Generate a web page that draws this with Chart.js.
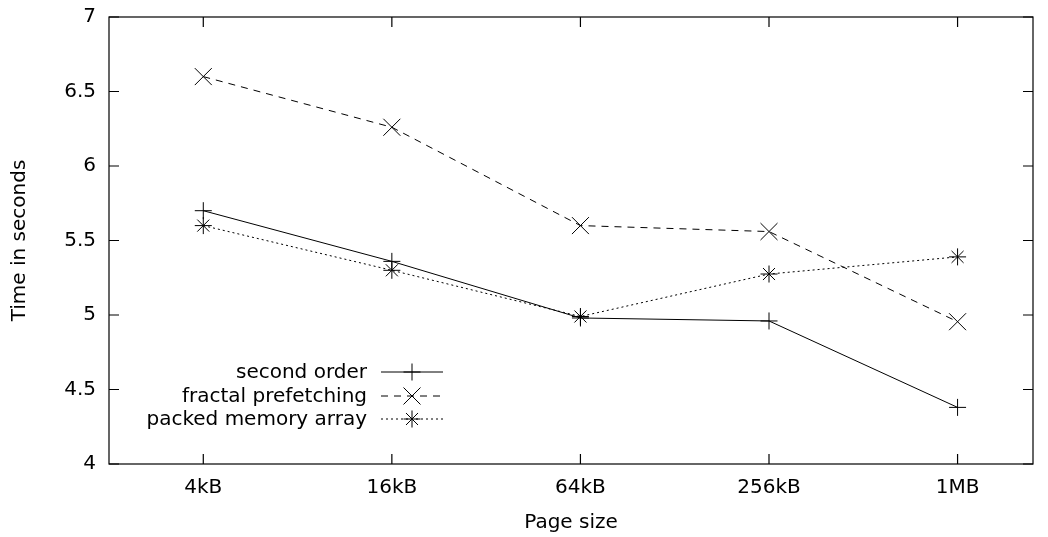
<!DOCTYPE html>
<html>
<head>
<meta charset="utf-8">
<script src="https://cdn.jsdelivr.net/npm/chart.js@4.4.1/dist/chart.umd.min.js"></script>
<style>
  html, body { margin: 0; padding: 0; background: #fff; }
  #wrap { width: 1048px; height: 537px; }
</style>
</head>
<body>
<div id="wrap"><canvas id="chart" width="1048" height="537"></canvas></div>
<script>
// page sizes on the x axis
const pageSizes = ['4kB', '16kB', '64kB', '256kB', '1MB'];
// timings (seconds)
const secondOrder = [5.70, 5.36, 4.98, 4.96, 4.38];
const fractalPrefetching = [6.60, 6.26, 5.60, 5.56, 4.955];
const packedMemoryArray = [5.60, 5.30, 4.99, 5.275, 5.39];
const yTicks = [4, 4.5, 5, 5.5, 6, 6.5, 7];

const FONT = 'DejaVu Sans';
const FSIZE = 20;

function toPoints(values) {
    return values.map((v, i) => ({ x: i, y: v }));
}

const series = [
    { label: 'second order', values: secondOrder, style: 'cross', radius: 8.5, dash: [] },
    { label: 'fractal prefetching', values: fractalPrefetching, style: 'crossRot', radius: 12, dash: [7, 6] },
    { label: 'packed memory array', values: packedMemoryArray, style: 'star', radius: 8.5, dash: [2, 3] }
];

// gnuplot-like frame, inward ticks and legend
const framePlugin = {
    id: 'frame',
    afterDatasetsDraw(chart) {
        const ctx = chart.ctx;
        const a = chart.chartArea;
        const xs = chart.scales.x, ys = chart.scales.y;
        ctx.save();
        ctx.strokeStyle = '#000';
        ctx.lineWidth = 1.2;
        ctx.setLineDash([]);
        ctx.strokeRect(a.left, a.top, a.right - a.left, a.bottom - a.top);
        const len = 10;
        ctx.beginPath();
        xs.ticks.forEach(t => {
            const px = xs.getPixelForValue(t.value);
            ctx.moveTo(px, a.bottom); ctx.lineTo(px, a.bottom - len);
            ctx.moveTo(px, a.top); ctx.lineTo(px, a.top + len);
        });
        ys.ticks.forEach(t => {
            const py = ys.getPixelForValue(t.value);
            ctx.moveTo(a.left, py); ctx.lineTo(a.left + len, py);
            ctx.moveTo(a.right, py); ctx.lineTo(a.right - len, py);
        });
        ctx.stroke();

        // legend, text right aligned, sample to the right
        const textRight = 367, lineL = 381, lineR = 443, mid = 412;
        const rowY = [372, 396, 419];
        ctx.font = FSIZE + 'px "' + FONT + '"';
        ctx.fillStyle = '#000';
        ctx.textAlign = 'right';
        ctx.textBaseline = 'middle';
        chart.data.datasets.forEach((ds, i) => {
            const y = rowY[i];
            ctx.fillText(ds.label, textRight, y + 1);
            ctx.lineWidth = 1;
            ctx.setLineDash(ds.borderDash);
            ctx.beginPath();
            ctx.moveTo(lineL, y); ctx.lineTo(lineR, y);
            ctx.stroke();
            ctx.setLineDash([]);
            Chart.helpers.drawPoint(ctx, {
                pointStyle: ds.pointStyle, radius: ds.pointRadius, rotation: 0, borderWidth: 1
            }, mid, y);
        });
        ctx.restore();
    }
};

new Chart(document.getElementById('chart'), {
    type: 'line',
    data: {
        datasets: series.map(s => ({
            label: s.label,
            data: toPoints(s.values),
            borderColor: '#000',
            backgroundColor: '#000',
            borderWidth: 1,
            borderDash: s.dash,
            pointStyle: s.style,
            pointRadius: s.radius,
            pointHoverRadius: s.radius,
            pointBorderWidth: 1,
            pointBorderColor: '#000',
            tension: 0,
            fill: false
        }))
    },
    options: {
        responsive: false,
        animation: false,
        devicePixelRatio: 1,
        layout: { padding: { top: 17, right: 15, left: 0, bottom: 0 } },
        plugins: {
            legend: { display: false },
            tooltip: { enabled: false }
        },
        scales: {
            x: {
                type: 'linear',
                min: -0.5,
                max: 4.4,
                afterBuildTicks: scale => {
                    scale.ticks = pageSizes.map((_, i) => ({ value: i }));
                },
                afterFit: scale => {
                    scale.height = 73;
                    scale.paddingLeft = 0;
                    scale.paddingRight = 0;
                },
                grid: { display: false, drawTicks: false },
                border: { display: false },
                ticks: {
                    color: '#000',
                    padding: 12,
                    font: { family: FONT, size: FSIZE },
                    callback: v => pageSizes[v]
                },
                title: {
                    display: true,
                    text: 'Page size',
                    color: '#000',
                    font: { family: FONT, size: FSIZE },
                    padding: { top: 2, bottom: 2 }
                }
            },
            y: {
                min: 4,
                max: 7,
                afterBuildTicks: scale => {
                    scale.ticks = yTicks.map(v => ({ value: v }));
                },
                afterFit: scale => {
                    scale.width = 109;
                    scale.paddingTop = 0;
                    scale.paddingBottom = 0;
                },
                grid: { display: false, drawTicks: false },
                border: { display: false },
                ticks: {
                    color: '#000',
                    padding: 13,
                    font: { family: FONT, size: FSIZE },
                    callback: v => String(v)
                },
                title: {
                    display: true,
                    text: 'Time in seconds',
                    color: '#000',
                    font: { family: FONT, size: FSIZE },
                    padding: { top: 8, bottom: 8 }
                }
            }
        }
    },
    plugins: [framePlugin]
});
</script>
</body>
</html>
